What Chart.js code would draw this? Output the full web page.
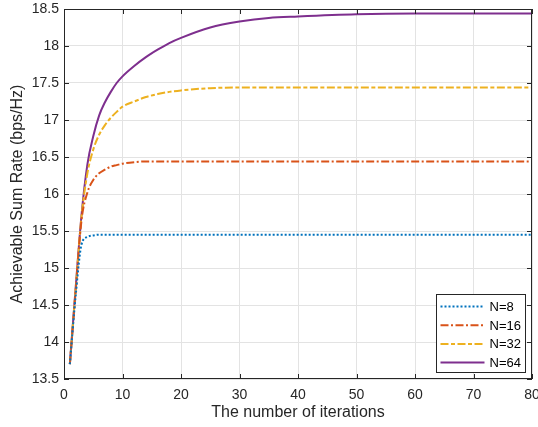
<!DOCTYPE html>
<html>
<head>
<meta charset="utf-8">
<script src="https://cdn.jsdelivr.net/npm/chart.js@4"></script>
<style>
  html, body { margin: 0; padding: 0; background: #fff; }
  #wrap { width: 538px; height: 427px; }
</style>
</head>
<body>
<div id="wrap"><canvas id="myChart" width="538" height="427"></canvas></div>
<script>
// data
const iterations = [1, 2, 3, 4, 5, 6, 7, 8, 9, 10, 12, 14, 16, 18, 20, 25, 30, 35, 40, 50, 60, 70, 80];
const rateN8  = [13.7, 14.63, 15.32, 15.42, 15.44, 15.45, 15.45, 15.45, 15.45, 15.45, 15.45, 15.45, 15.45, 15.45, 15.45, 15.45, 15.45, 15.45, 15.45, 15.45, 15.45, 15.45, 15.45];
const rateN16 = [13.7, 14.7, 15.65, 16.02, 16.19, 16.28, 16.33, 16.37, 16.39, 16.41, 16.43, 16.44, 16.44, 16.44, 16.44, 16.44, 16.44, 16.44, 16.44, 16.44, 16.44, 16.44, 16.44];
const rateN32 = [13.7, 14.72, 15.7, 16.28, 16.6, 16.8, 16.93, 17.03, 17.11, 17.18, 17.25, 17.31, 17.35, 17.38, 17.4, 17.43, 17.44, 17.44, 17.44, 17.44, 17.44, 17.44, 17.44];
const rateN64 = [13.7, 14.74, 15.72, 16.4, 16.78, 17.06, 17.24, 17.38, 17.5, 17.59, 17.73, 17.85, 17.95, 18.04, 18.11, 18.25, 18.33, 18.38, 18.4, 18.43, 18.44, 18.44, 18.44];
const seriesLabels = ["N=8", "N=16", "N=32", "N=64"];
const xTicks = [0, 10, 20, 30, 40, 50, 60, 70, 80];
const yTicks = [13.5, 14, 14.5, 15, 15.5, 16, 16.5, 17, 17.5, 18, 18.5];

const FONT = "'Liberation Sans', Arial, Helvetica, sans-serif";
const AXIS_COLOR = '#262626';

function toPoints(ys) {
    return iterations.map((x, i) => ({ x: x, y: ys[i] }));
}

const styles = [
    { color: '#0072BD', dash: [2, 2] },
    { color: '#D95319', dash: [8, 2.5, 2, 2.5] },
    { color: '#EDB120', dash: [8, 2.5, 4, 2.5] },
    { color: '#7E2F8E', dash: [] }
];
const allRates = [rateN8, rateN16, rateN32, rateN64];

const datasets = allRates.map((ys, i) => ({
    label: seriesLabels[i],
    data: toPoints(ys),
    borderColor: styles[i].color,
    borderDash: styles[i].dash,
    borderWidth: 2,
    pointRadius: 0,
    fill: false,
    cubicInterpolationMode: 'monotone'
}));

// frame with inward ticks, MATLAB style
const framePlugin = {
    id: 'frame',
    afterDatasetsDraw(chart) {
        const { ctx, chartArea: a, scales } = chart;
        ctx.save();
        ctx.strokeStyle = AXIS_COLOR;
        ctx.lineWidth = 1;
        ctx.setLineDash([]);
        ctx.strokeRect(a.left + 0.5, a.top + 0.5, a.right - a.left - 1, a.bottom - a.top - 1);
        ctx.beginPath();
        xTicks.forEach(v => {
            const px = Math.round(scales.x.getPixelForValue(v)) + 0.5;
            ctx.moveTo(px, a.bottom); ctx.lineTo(px, a.bottom - 5);
            ctx.moveTo(px, a.top); ctx.lineTo(px, a.top + 5);
        });
        yTicks.forEach(v => {
            const py = Math.round(scales.y.getPixelForValue(v)) + 0.5;
            ctx.moveTo(a.left, py); ctx.lineTo(a.left + 5, py);
            ctx.moveTo(a.right, py); ctx.lineTo(a.right - 5, py);
        });
        ctx.stroke();
        ctx.restore();
    },
    afterDraw(chart) {
        // legend box inside the plot, bottom right
        const { ctx, chartArea: a } = chart;
        const boxW = 89, boxH = 78;
        const bx = a.right - 7 - boxW + 0.5;
        const by = a.bottom - 7 - boxH + 0.5;
        ctx.save();
        ctx.fillStyle = '#fff';
        ctx.fillRect(bx, by, boxW, boxH);
        ctx.strokeStyle = AXIS_COLOR;
        ctx.lineWidth = 1;
        ctx.strokeRect(bx, by, boxW, boxH);
        ctx.font = '13px ' + FONT;
        ctx.textBaseline = 'middle';
        ctx.textAlign = 'left';
        chart.data.datasets.forEach((ds, i) => {
            const y = by + 12 + i * 18.7;
            ctx.beginPath();
            ctx.strokeStyle = ds.borderColor;
            ctx.lineWidth = 2;
            ctx.setLineDash(ds.borderDash);
            ctx.moveTo(bx + 4, y);
            ctx.lineTo(bx + 48, y);
            ctx.stroke();
            ctx.setLineDash([]);
            ctx.fillStyle = '#000';
            ctx.fillText(ds.label, bx + 53, y + 1);
        });
        ctx.restore();
    }
};

const ctx = document.getElementById("myChart").getContext("2d");
new Chart(ctx, {
    type: 'line',
    data: { datasets: datasets },
    options: {
        responsive: false,
        animation: false,
        layout: { padding: { top: 9, right: 6, bottom: 0, left: 0 } },
        plugins: {
            legend: { display: false },
            tooltip: { enabled: false }
        },
        scales: {
            x: {
                type: 'linear',
                min: 0,
                max: 80,
                afterBuildTicks: s => { s.ticks = xTicks.map(v => ({ value: v })); },
                afterFit: s => { s.height = 48; s.paddingLeft = 0; s.paddingRight = 0; },
                grid: { color: '#e3e3e3', drawTicks: false },
                border: { display: false },
                ticks: { color: AXIS_COLOR, font: { family: FONT, size: 14 }, padding: 8, maxRotation: 0,
                    callback: v => String(v) },
                title: {
                    display: true,
                    text: 'The number of iterations',
                    color: AXIS_COLOR,
                    font: { family: FONT, size: 16 },
                    padding: { top: 0, bottom: 5 }
                }
            },
            y: {
                type: 'linear',
                min: 13.5,
                max: 18.5,
                afterBuildTicks: s => { s.ticks = yTicks.map(v => ({ value: v })); },
                afterFit: s => { s.width = 64; s.paddingTop = 0; s.paddingBottom = 0; },
                grid: { color: '#e3e3e3', drawTicks: false },
                border: { display: false },
                ticks: { color: AXIS_COLOR, font: { family: FONT, size: 14 }, padding: 5,
                    callback: v => String(v) },
                title: {
                    display: true,
                    text: 'Achievable Sum Rate (bps/Hz)',
                    color: AXIS_COLOR,
                    font: { family: FONT, size: 16 },
                    padding: { top: 8, bottom: 0 }
                }
            }
        }
    },
    plugins: [framePlugin]
});
</script>
</body>
</html>
